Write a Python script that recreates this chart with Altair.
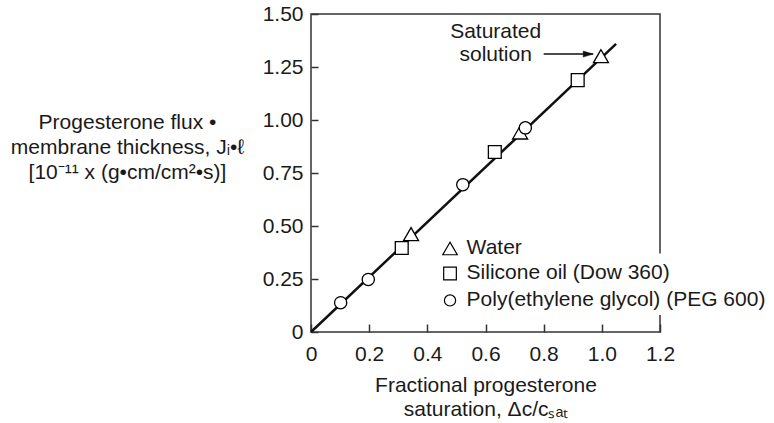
import altair as alt
import pandas as pd

FONT = "Liberation Sans"
FS = 21

series = ["Water", "Silicone oil (Dow 360)", "Poly(ethylene glycol) (PEG 600)"]
water_x = [0.344, 0.719, 0.997]
water_y = [0.462, 0.941, 1.301]
sil_x = [0.312, 0.632, 0.917]
sil_y = [0.396, 0.849, 1.188]
peg_x = [0.102, 0.197, 0.522, 0.737]
peg_y = [0.138, 0.248, 0.695, 0.963]

fit_x = [0.0, 1.049]
fit_y = [0.0, 1.359]

x_ticks = [0, 0.2, 0.4, 0.6, 0.8, 1.0, 1.2]
y_ticks = [0, 0.25, 0.5, 0.75, 1.0, 1.25, 1.5]

note_lines = ["Saturated", "solution"]
note_x = [0.635, 0.635]
note_y = [1.413, 1.306]
arrow_x = [0.80, 0.970]
arrow_y = [1.311, 1.311]

# legend placement (data units of the plot)
legend_sym_x = 0.478
legend_lab_x = 0.535
legend_row_y = [0.394, 0.276, 0.149]
legend_box_x = [0.44, 1.60]
legend_box_y = [0.08, 0.37]

SHAPES = ["triangle-up", "square", "circle"]
POINT_SIZE = {series[0]: 225, series[1]: 165, series[2]: 150}
LEGEND_SIZE = {series[0]: 210, series[1]: 160, series[2]: 125}

labels = [series[0]] * len(water_x) + [series[1]] * len(sil_x) + [series[2]] * len(peg_x)
pts = pd.DataFrame({
    "x": water_x + sil_x + peg_x,
    "y": water_y + sil_y + peg_y,
    "s": labels,
})
pts["sz"] = pts["s"].map(POINT_SIZE)
fit = pd.DataFrame({"x": fit_x, "y": fit_y})
notes = pd.DataFrame({"x": note_x, "y": note_y, "t": note_lines})
arrow = pd.DataFrame({"x": [arrow_x[0]], "x2": [arrow_x[1]], "y": [arrow_y[0]]})
head = pd.DataFrame({"x": [arrow_x[1] - 0.017], "y": [arrow_y[1]]})
leg = pd.DataFrame({"s": series, "y": legend_row_y,
                    "x": [legend_sym_x] * 3, "lx": [legend_lab_x] * 3})
leg["sz"] = leg["s"].map(LEGEND_SIZE)
box = pd.DataFrame({"x": [legend_box_x[0]], "x2": [legend_box_x[1]],
                    "y": [legend_box_y[0]], "y2": [legend_box_y[1]]})

xs = alt.Scale(domain=[0, 1.2], nice=False, zero=True)
ys = alt.Scale(domain=[0, 1.5], nice=False, zero=True)

x_axis = alt.Axis(
    values=x_ticks,
    labelExpr="datum.value == 0 ? '0' : format(datum.value, '.1f')",
    tickSize=8, offset=-8, domain=False, grid=False,
    labelPadding=11, labelFontSize=FS, labelFont=FONT, labelColor="#1a1a1a",
    labelFlush=False, labelOverlap=False,
    tickColor="#333", tickWidth=1.5,
    title=["Fractional progesterone", "saturation, Δc/cₛₐₜ"],
    titleFontSize=FS, titleFont=FONT, titleFontWeight="normal", titleColor="#1a1a1a",
    titleLineHeight=24, titleY=61, titleBaseline="middle",
)
y_axis = alt.Axis(
    values=y_ticks,
    labelExpr="datum.value == 0 ? '0' : format(datum.value, '.2f')",
    tickSize=7, offset=-7, domain=False, grid=False,
    labelPadding=8, labelFontSize=FS, labelFont=FONT, labelColor="#1a1a1a",
    labelFlush=False, labelOverlap=False,
    tickColor="#333", tickWidth=1.5,
    title=["Progesterone flux •", "membrane thickness, Jᵢ•ℓ", "[10⁻¹¹ x (g•cm/cm²•s)]"],
    titleFontSize=FS, titleFont=FONT, titleFontWeight="normal", titleColor="#1a1a1a",
    titleAngle=0, titleAlign="center", titleBaseline="middle",
    titleX=-191, titleY=108, titleLineHeight=25,
)

X = alt.X("x:Q", scale=xs, axis=x_axis)
Y = alt.Y("y:Q", scale=ys, axis=y_axis)
SH = alt.Shape("s:N", scale=alt.Scale(domain=series, range=SHAPES), legend=None)
SZ = alt.Size("sz:Q", scale=None, legend=None)

line = alt.Chart(fit).mark_line(color="#111", strokeWidth=2.5).encode(x=X, y=Y)

points = alt.Chart(pts).mark_point(
    filled=True, fill="white", stroke="black", strokeWidth=1.3, opacity=1
).encode(x=X, y=Y, shape=SH, size=SZ)

text = alt.Chart(notes).mark_text(
    fontSize=FS, font=FONT, align="center", baseline="middle", color="#1a1a1a"
).encode(x=X, y=Y, text="t:N")

rule = alt.Chart(arrow).mark_rule(color="#111", strokeWidth=1.5).encode(x=X, x2="x2:Q", y=Y)

arrowhead = alt.Chart(head).mark_point(
    shape="M-1,-0.6L1,0L-1,0.6Z", filled=True, fill="#111", stroke="#111",
    strokeWidth=0.5, size=100, opacity=1
).encode(x=X, y=Y)

legbox = alt.Chart(box).mark_rect(fill="white", stroke=None, opacity=1).encode(
    x=X, x2="x2:Q", y=Y, y2="y2:Q")

legsym = alt.Chart(leg).mark_point(
    filled=True, fill="white", stroke="black", strokeWidth=1.2, opacity=1
).encode(x=X, y=Y, shape=SH, size=SZ)

leglab = alt.Chart(leg).mark_text(
    fontSize=FS, font=FONT, align="left", baseline="middle", color="#1a1a1a"
).encode(x=alt.X("lx:Q", scale=xs, axis=x_axis), y=Y, text="s:N")

chart = alt.layer(line, points, text, rule, arrowhead, legbox, legsym, leglab).properties(
    width=349, height=318,
    autosize=alt.AutoSizeParams(type="none"),
    padding={"left": 311, "top": 14, "right": 114, "bottom": 91},
    background="white",
).configure_view(stroke="#333", strokeWidth=1.5)

chart.save("out.html", embed_options={"renderer": "svg", "actions": False})
